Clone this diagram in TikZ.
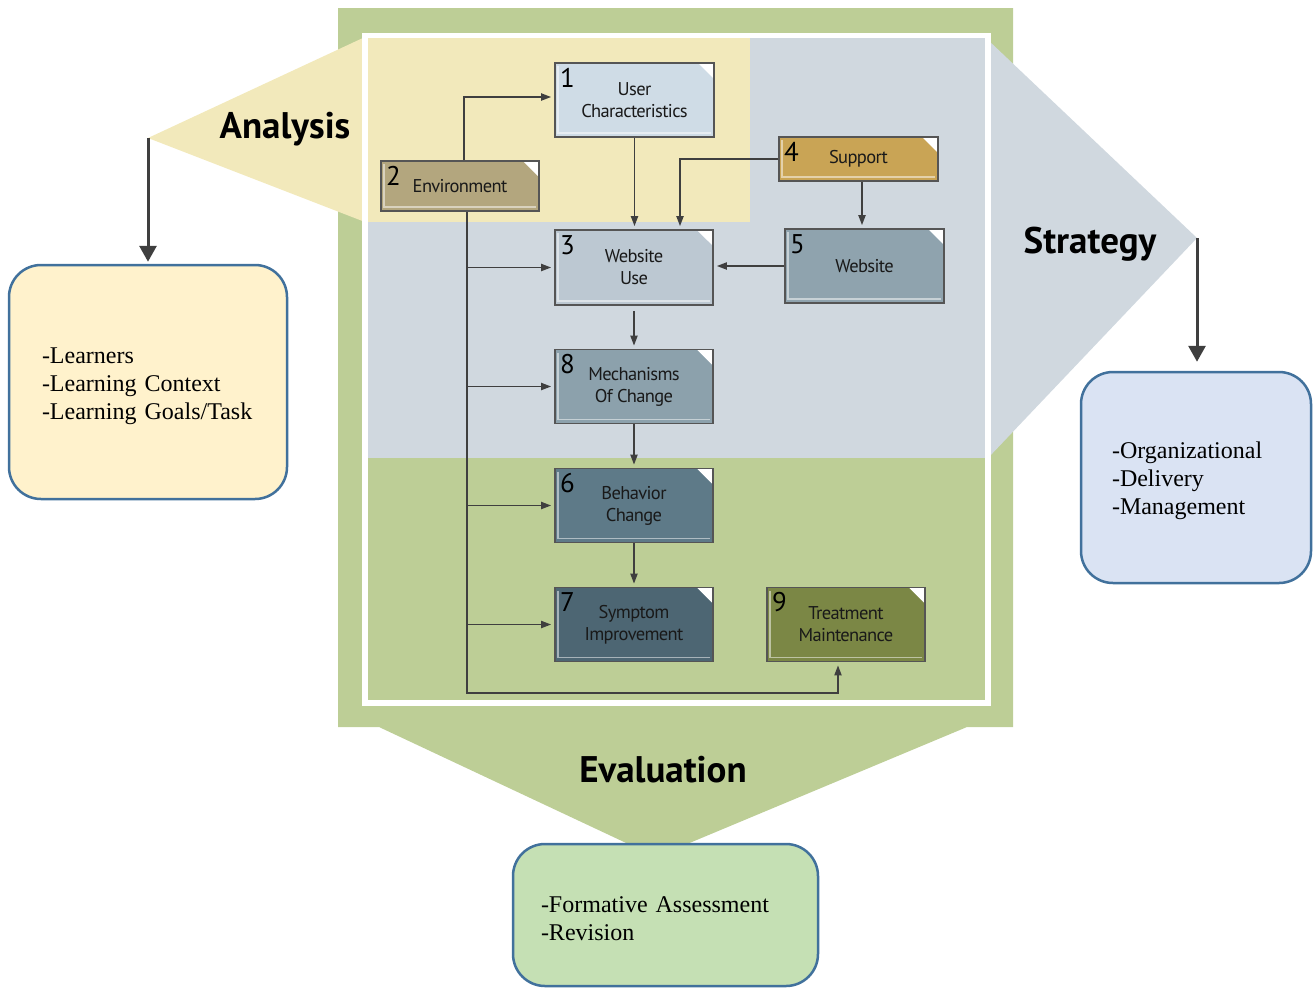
\documentclass[tikz,border=0pt]{standalone}
\usepackage{fontspec}
\setmainfont{Liberation Serif}
\newfontfamily\diag{PT Sans}
\newfontfamily\boxf{PT Sans}[LetterSpace=-3.5]
\usetikzlibrary{arrows.meta}

\definecolor{framegreen}{HTML}{BDCE96}
\definecolor{anayellow}{HTML}{F2E9BB}
\definecolor{strgray}{HTML}{D0D8DF}
\definecolor{boxline}{HTML}{555555}
\definecolor{linkgray}{HTML}{3F3F3F}
\definecolor{listblue}{HTML}{41719C}
\definecolor{userfill}{HTML}{CFDCE6}
\definecolor{envfill}{HTML}{B3A67E}
\definecolor{supfill}{HTML}{C9A455}
\definecolor{webfill}{HTML}{8FA3AE}
\definecolor{usefill}{HTML}{BCC8D2}
\definecolor{mechfill}{HTML}{8CA1AC}
\definecolor{behfill}{HTML}{5E7A88}
\definecolor{symfill}{HTML}{4D6673}
\definecolor{treatfill}{HTML}{7B8745}
\definecolor{anabox}{HTML}{FFF2CC}
\definecolor{strbox}{HTML}{DAE3F3}
\definecolor{evabox}{HTML}{C5E0B4}

\begin{document}
\begin{tikzpicture}[x=1pt, y=-1pt, node distance=119pt, line width=1.8pt,
    >={Triangle[length=10pt,width=7pt]},
    box/.style = {draw=boxline, line width=1.6pt, minimum width=158pt, minimum height=74pt, inner sep=0pt,
        align=center, text=black!90, font=\boxf\fontsize{18.5}{22}\selectfont,
        path picture={
            \draw[white, opacity=.5] ([shift={(3pt,-3pt)}]path picture bounding box.north west)
                -- ([shift={(3pt,4pt)}]path picture bounding box.south west)
                -- ([shift={(-3pt,4pt)}]path picture bounding box.south east);
            \fill[white] ([xshift=-16pt]path picture bounding box.north east)
                -- (path picture bounding box.north east)
                -- ([yshift=-16pt]path picture bounding box.north east) -- cycle;}},
    num/.style = {label={[font=\diag\fontsize{27}{27}\selectfont, anchor=north west, inner sep=5pt]north west:#1}},
    link/.style = {draw=linkgray, ->, shorten >=3pt},
    head/.style = {font=\diag\bfseries\fontsize{37}{40}\selectfont, anchor=base},
    bigarrow/.style = {draw=linkgray, line width=3pt, -{Triangle[length=16pt,width=17pt]}},
    list/.style = {draw=listblue, line width=2.5pt, rounded corners=32pt, align=left,
        font=\fontsize{24}{28}\selectfont}]

    \useasboundingbox (0,0) rectangle (1315,989);

    % frame and phases
    \fill[framegreen] (338,8) -- (1013,8) -- (1013,727) -- (967,727) -- (656,857)
        -- (379,727) -- (338,727) -- cycle;
    \fill[strgray] (365,35) rectangle (988,458);
    \fill[anayellow] (365,35) rectangle (750,222);
    \coordinate (atip) at (148,138);
    \coordinate (stip) at (1197,238);
    \fill[anayellow] (atip) -- (365,37) -- (365,222) -- cycle;
    \fill[strgray] (988,40) -- (stip) -- (988,458) -- cycle;
    \draw[white, line width=5.5pt] (365,35.5) rectangle (988,703);

    \node[head] (A) at (285,138) {Analysis};
    \node[head] (S) at (1090,253) {Strategy};
    \node[head] (E) at (663,782) {Evaluation};

    % boxes
    \node[box, num=1, fill=userfill, minimum width=159pt] (1) at (634.5,100) {User\\Characteristics};
    \node[box, num=2, fill=envfill, minimum height=50pt] (2) at (460,186) {Environment};
    \node[box, num=4, fill=supfill, minimum width=159pt, minimum height=44pt] (4) at (858.5,159) {Support};
    \node[box, num=5, fill=webfill, minimum width=159pt] (5) at (864.5,266) {Website};
    \node[box, num=3, fill=usefill, minimum height=75pt] (3) at (634,267.5) {Website\\Use};
    \node[box, num=8, fill=mechfill] (8) [below of=3] {Mechanisms\\Of Change};
    \node[box, num=6, fill=behfill] (6) [below of=8] {Behavior\\Change};
    \node[box, num=7, fill=symfill] (7) [below of=6] {Symptom\\Improvement};
    \node[box, num=9, fill=treatfill, node distance=212pt] (9) [right of=7] {Treatment\\Maintenance};

    % flow
    \draw[link] ([xshift=4pt]2.north) |- ([yshift=3pt]1.west);
    \draw[link] (1.south) -- (1.south |- 3.north);
    \draw[link] (4.west) -| ([xshift=46pt]3.north);
    \draw[link] ([xshift=3.5pt]4.south) -- ([xshift=3.5pt]4.south |- 5.north);
    \draw[link] (5.west) -- (5.west -| 3.east);
    \draw[link, shorten <=5pt] (3) -- (8);
    \draw[link] (8) -- (6);
    \draw[link] (6) -- (7);

    % environment feeds everything
    \coordinate (loop) at (467,693);
    \draw[link] ([xshift=7pt]2.south) -- (loop) -| ([xshift=-8pt]9.south);
    \foreach \n in {3,8,6,7}
        \draw[link] (loop |- \n.west) -- (\n.west);

    % phase outputs
    \node[list, fill=anabox, minimum width=278pt, minimum height=234pt, text width=212pt, inner xsep=33pt]
        (la) at (148,382) {\rule{0pt}{24pt}-Learners\\-Learning Context\\-Learning Goals/Task};
    \node[list, fill=strbox, minimum width=230pt, minimum height=211pt, text width=168pt, inner xsep=31pt]
        (ls) at (1196,477.5) {\rule{0pt}{24pt}-Organizational\\-Delivery\\-Management};
    \node[list, fill=evabox, minimum width=305pt, minimum height=142pt, text width=249pt, inner xsep=28pt]
        (le) at (665.5,915) {\rule{0pt}{24pt}-Formative Assessment\\-Revision};

    \draw[bigarrow, shorten >=2pt] (atip) -- (atip |- la.north);
    \draw[bigarrow, shorten >=9pt] (stip) -- (stip |- ls.north);
\end{tikzpicture}
\end{document}
